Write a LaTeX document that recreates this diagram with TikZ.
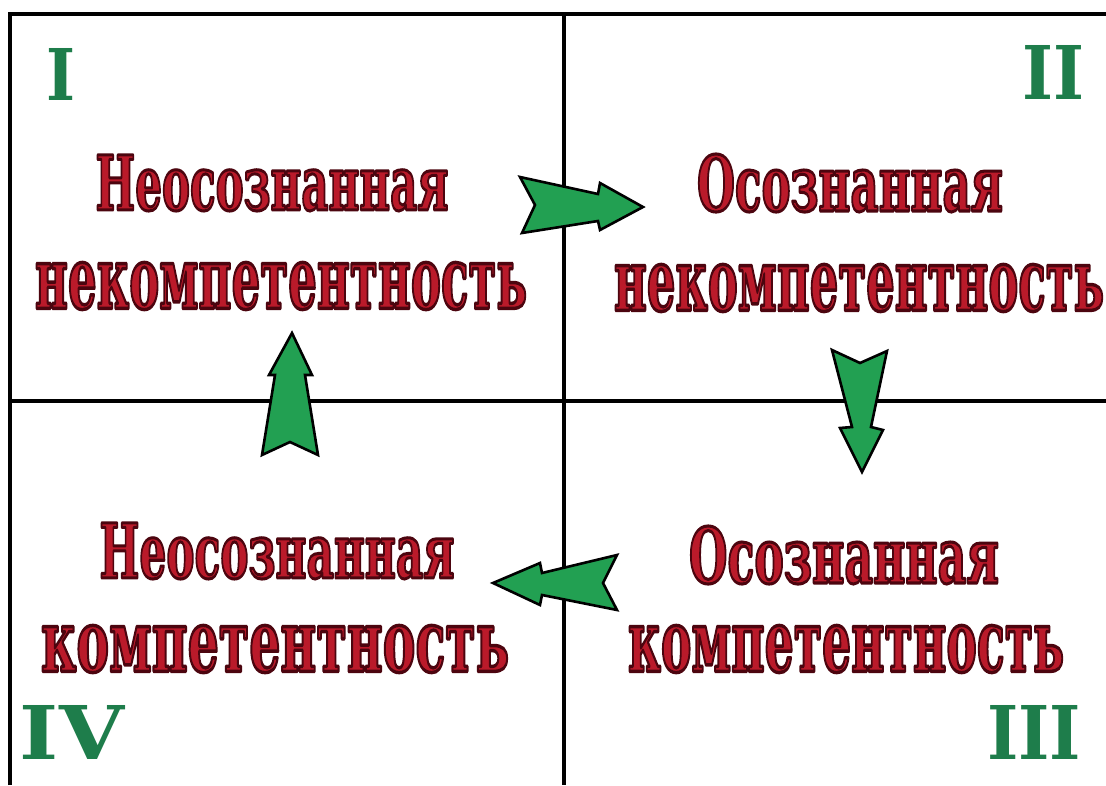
\documentclass[tikz,border=0pt]{standalone}
\usepackage{graphicx}
\usepackage{fontspec}
\setmainfont{DejaVu Serif}
\definecolor{txtred}{RGB}{186,26,42}
\definecolor{arrgreen}{RGB}{34,160,82}
\definecolor{numgreen}{RGB}{30,125,75}
\newcommand\outlineon{\special{pdf:literal direct 2 Tr 2.4 w 1 j 0.30 0.02 0.06 RG}}
\newcommand\outlineoff{\special{pdf:literal direct 0 Tr}}
\newcommand\fittext[3]{\resizebox{#1pt}{#2pt}{\fontsize{60}{60}\selectfont\bfseries\color{txtred}\outlineon #3\outlineoff}}
\newcommand\fitnum[3]{\resizebox{#1pt}{#2pt}{\fontsize{60}{60}\selectfont\bfseries\color{numgreen}#3}}
\tikzset{
  lbl/.style={inner sep=0pt, outer sep=0pt},
  grid/.style={line width=4pt, black},
  fatarrow/.style={fill=arrgreen, draw=black, line width=2.6pt, line join=miter}
}
\begin{document}
\begin{tikzpicture}[x=1pt, y=-1pt]
\fill[white] (0,0) rectangle (1106,785);
\useasboundingbox (0,0) rectangle (1106,785);
% frame
\draw[grid] (10,785) -- (10,14) -- (1106,14);
\draw[grid] (564,14) -- (564,785);
\draw[grid] (10,401) -- (1106,401);
% numerals
\node[lbl] (n1) at (61,74) {\fitnum{29}{52}{I}};
\node[lbl] (n2) at (1053,72) {\fitnum{62}{54}{II}};
\node[lbl] (n3) at (1034,732) {\fitnum{94}{54}{III}};
\node[lbl] (n4) at (72,732) {\fitnum{104}{54}{IV}};
% texts
\node[lbl] (q1a) at (272,183) {\fittext{353}{55}{Неосознанная}};
\node[lbl] (q1b) at (281,286) {\fittext{492}{46}{некомпетентность}};
\node[lbl] (q2a) at (850,183) {\fittext{306}{57}{Осознанная}};
\node[lbl] (q2b) at (859,288) {\fittext{490}{46}{некомпетентность}};
\node[lbl] (q3a) at (844,555) {\fittext{310}{57}{Осознанная}};
\node[lbl] (q3b) at (846,649) {\fittext{436}{46}{компетентность}};
\node[lbl] (q4a) at (277,551) {\fittext{355}{55}{Неосознанная}};
\node[lbl] (q4b) at (275,649) {\fittext{468}{46}{компетентность}};
% arrows
\draw[fatarrow] (520,177) -- (598,194) -- (600,183) -- (643,207) -- (600,230) -- (598,221) -- (522,233) -- (535,205) -- cycle;
\draw[fatarrow] (832,350) -- (860,363) -- (887,351) -- (871,427) -- (883,430) -- (862,472) -- (840,428) -- (852,427) -- cycle;
\draw[fatarrow] (617,555) -- (603,583) -- (617,610) -- (542,595) -- (540,605) -- (493,583) -- (540,563) -- (542,573) -- cycle;
\draw[fatarrow] (262,455) -- (290,442) -- (318,455) -- (305,375) -- (312,375) -- (292,333) -- (269,375) -- (275,375) -- cycle;
\end{tikzpicture}
\end{document}
